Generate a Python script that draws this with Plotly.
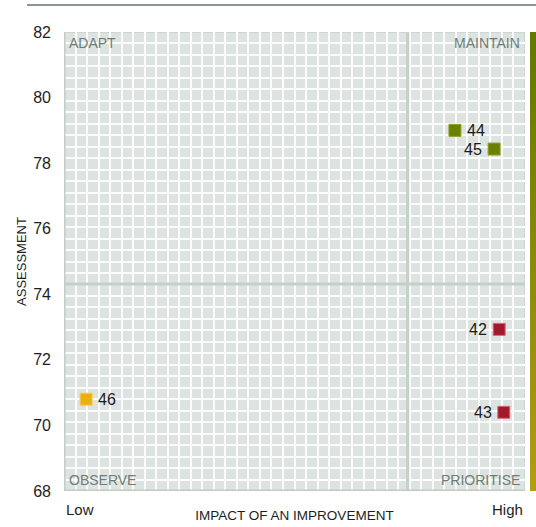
import numpy as np
import plotly.graph_objects as go

# ---- data ----
ids = ["44", "45", "42", "43", "46"]
impact = [84.8, 93.3, 94.4, 95.4, 4.8]          # impact of an improvement (Low..High scale 0-100)
assessment = [79.0, 78.43, 72.93, 70.4, 70.8]
colors = ["#6b8000", "#6b8000", "#a3192b", "#a3192b", "#e9b00f"]
borders = ["#8ea12a", "#8ea12a", "#d66a78", "#d66a78", "#f3cc5a"]
text_side = ["right", "left", "left", "left", "right"]
y_ticks = [68, 70, 72, 74, 76, 78, 80, 82]
quadrants = ["ADAPT", "MAINTAIN", "OBSERVE", "PRIORITISE"]
x_labels = ["Low", "High"]

FONT = "Liberation Sans"
W, H = 536, 527
ML, MR, MT, MB = 64, 0, 32, 36
PW = W - ML - MR
PH = H - MT - MB
plot_w = 461
dom_main = [0, plot_w / PW]
dom_bar = [(plot_w + 5) / PW, 1]

x_mean = float(np.mean(impact))
y_mean = float(np.mean(assessment))

fig = go.Figure()

# gradient bar on the right
bar_y = np.linspace(68, 82, 60)
fig.add_trace(go.Heatmap(
    x=[0], y=bar_y, z=[[v] for v in bar_y],
    colorscale=[[0, "#b49d10"], [1, "#627800"]],
    showscale=False, zsmooth="best", hoverinfo="skip",
    xaxis="x2", yaxis="y2",
))

fig.add_trace(go.Scatter(
    x=impact, y=assessment, mode="markers",
    marker=dict(symbol="square", size=12, color=colors,
                line=dict(color=borders, width=1)),
    cliponaxis=False, showlegend=False,
))

shapes = []
# midlines
shapes.append(dict(type="line", xref="x", yref="y", x0=x_mean, x1=x_mean, y0=68, y1=82,
                   line=dict(color="#c4cfc7", width=3), layer="above"))
shapes.append(dict(type="line", xref="x", yref="y", x0=0, x1=100, y0=y_mean, y1=y_mean,
                   line=dict(color="#c4cfc7", width=3), layer="above"))
# border
shapes.append(dict(type="rect", xref="x", yref="y", x0=0, x1=100, y0=68, y1=82,
                   line=dict(color="#ccd6cf", width=2), layer="below"))
shapes.append(dict(type="line", xref="x", yref="y", x0=0, x1=0, y0=68, y1=82,
                   line=dict(color="#c2cdc5", width=3), layer="above"))
shapes.append(dict(type="line", xref="x", yref="y", x0=0, x1=100, y0=68, y1=68,
                   line=dict(color="#c2cdc5", width=3), layer="above"))
# top rule
shapes.append(dict(type="line", xref="paper", yref="paper",
                   x0=(27 - ML) / PW, x1=1, y0=1 + 27 / PH, y1=1 + 27 / PH,
                   line=dict(color="#8c9791", width=2)))

qfont = dict(family=FONT, size=14, color="#6e7d74")
lfont = dict(family=FONT, size=15, color="#1e1e1e")
annotations = [
    dict(x=0, y=82, xref="x", yref="y", text=quadrants[0], showarrow=False,
         xanchor="left", yanchor="top", xshift=3, yshift=-1, font=qfont),
    dict(x=100, y=82, xref="x", yref="y", text=quadrants[1], showarrow=False,
         xanchor="right", yanchor="top", xshift=-3, yshift=-1, font=qfont),
    dict(x=0, y=68, xref="x", yref="y", text=quadrants[2], showarrow=False,
         xanchor="left", yanchor="bottom", xshift=3, yshift=1, font=qfont),
    dict(x=100, y=68, xref="x", yref="y", text=quadrants[3], showarrow=False,
         xanchor="right", yanchor="bottom", xshift=-3, yshift=1, font=qfont),
    dict(x=0, y=68, xref="x", yref="y", text=x_labels[0], showarrow=False,
         xanchor="left", yanchor="top", xshift=0, yshift=-8, font=lfont),
    dict(x=100, y=68, xref="x", yref="y", text=x_labels[1], showarrow=False,
         xanchor="right", yanchor="top", xshift=0, yshift=-8, font=lfont),
]
# point labels
for xi, yi, t, side in zip(impact, assessment, ids, text_side):
    annotations.append(dict(
        x=xi, y=yi, xref="x", yref="y", text=t, showarrow=False,
        xanchor="left" if side == "right" else "right", yanchor="middle",
        xshift=10 if side == "right" else -10, yshift=0,
        font=dict(family=FONT, size=16, color="#1a1a1a")))

fig.update_layout(
    width=W, height=H,
    margin=dict(l=ML, r=MR, t=MT, b=MB, pad=0),
    paper_bgcolor="white", plot_bgcolor="#dde3e0",
    font=dict(family=FONT, size=15, color="#1e1e1e"),
    showlegend=False,
    xaxis=dict(domain=dom_main, range=[0, 100], showticklabels=False, ticks="",
               showgrid=True, dtick=2.5, tick0=0, gridcolor="#fbfcfb", gridwidth=2,
               zeroline=False, showline=False,
               title=dict(text="IMPACT OF AN IMPROVEMENT", font=dict(family=FONT, size=13.5),
                          standoff=19)),
    yaxis=dict(range=[68, 82], tickvals=y_ticks, ticks="", showgrid=False,
               ticklabelstandoff=12,
               tickfont=dict(family=FONT, size=16, color="#1e1e1e"),
               minor=dict(dtick=0.35, tick0=68, showgrid=True, gridcolor="#fbfcfb", gridwidth=2),
               zeroline=False, showline=False,
               title=dict(text="ASSESSMENT", font=dict(family=FONT, size=13), standoff=3)),
    xaxis2=dict(domain=dom_bar, range=[-0.5, 0.5], visible=False, fixedrange=True),
    yaxis2=dict(anchor="x2", range=[68, 82], visible=False, fixedrange=True),
    shapes=shapes, annotations=annotations,
)

fig.write_html("out.html", config={"displayModeBar": False},
               post_script="document.body.style.margin='0';document.body.style.overflow='hidden';")
